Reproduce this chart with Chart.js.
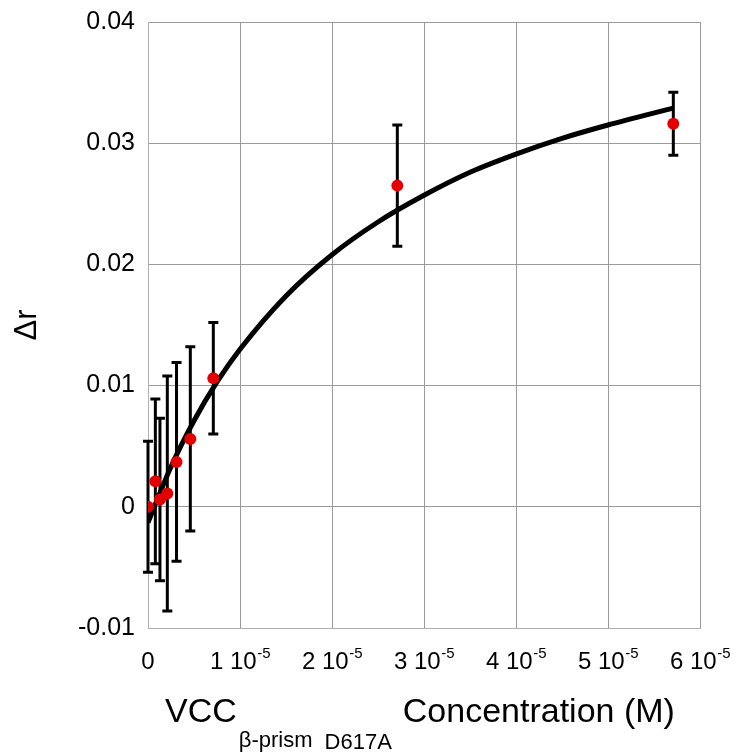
<!DOCTYPE html>
<html>
<head>
<meta charset="utf-8">
<script src="https://cdn.jsdelivr.net/npm/chart.js@4/dist/chart.umd.min.js"></script>
<style>
  html, body { margin: 0; padding: 0; background: #ffffff; }
  #wrap { width: 740px; height: 754px; }
</style>
</head>
<body>
<div id="wrap"><canvas id="c" width="740" height="754"></canvas></div>
<script>
// ---- data ----
const concentrations = [0, 0.8e-6, 1.3e-6, 2.1e-6, 3.1e-6, 4.6e-6, 7.1e-6, 2.71e-5, 5.71e-5];   // M
const deltaR        = [0, 0.0021, 0.0006, 0.0011, 0.0037, 0.0056, 0.0106, 0.0265, 0.0316];
const deltaRErr     = [0.0054, 0.0068, 0.0067, 0.0097, 0.0082, 0.0076, 0.0046, 0.0050, 0.0026];

// fitted curve
const fitX = [0, 2.5e-6, 5e-6, 7.5e-6, 1e-5, 1.5e-5, 2e-5, 2.5e-5, 3e-5, 3.5e-5, 4e-5, 4.5e-5, 5e-5, 5.71e-5];
const fitY = [-0.0013, 0.0033, 0.0071, 0.0103, 0.0130, 0.0174, 0.0208, 0.0235, 0.0257, 0.0276, 0.0291, 0.0304, 0.0315, 0.0329];

const xTickMantissas = ['0', '1', '2', '3', '4', '5', '6'];
const xTickExponent = '-5';
const yTickLabels = ['-0.01', '0', '0.01', '0.02', '0.03', '0.04'];

const FONT = "'Liberation Sans', Arial, Helvetica, sans-serif";

const fitPoints = fitX.map((x, i) => ({ x: x, y: fitY[i] }));
const dataPoints = concentrations.map((x, i) => ({ x: x, y: deltaR[i] }));

const errorBarPlugin = {
  id: 'errorBars',
  beforeDatasetsDraw(chart) {
    const ctx = chart.ctx, xs = chart.scales.x, ys = chart.scales.y;
    ctx.save();
    ctx.strokeStyle = '#000000';
    ctx.lineWidth = 3;
    ctx.lineCap = 'butt';
    concentrations.forEach((c, i) => {
      const px = xs.getPixelForValue(c);
      const top = ys.getPixelForValue(deltaR[i] + deltaRErr[i]);
      const bot = ys.getPixelForValue(deltaR[i] - deltaRErr[i]);
      ctx.beginPath();
      ctx.moveTo(px, top); ctx.lineTo(px, bot);
      ctx.moveTo(px - 5, top); ctx.lineTo(px + 5, top);
      ctx.moveTo(px - 5, bot); ctx.lineTo(px + 5, bot);
      ctx.stroke();
    });
    ctx.restore();
  }
};

const labelsPlugin = {
  id: 'customLabels',
  afterDraw(chart) {
    const ctx = chart.ctx, xs = chart.scales.x;
    ctx.save();
    ctx.fillStyle = '#000000';
    ctx.textBaseline = 'alphabetic';
    // x tick labels with superscript exponent
    const base = 669;
    xTickMantissas.forEach((m, i) => {
      const px = xs.getPixelForValue(i * 1e-5);
      if (m === '0') {
        ctx.font = '24px ' + FONT;
        ctx.textAlign = 'center';
        ctx.fillText('0', px, base);
        return;
      }
      const main = m + ' 10';
      ctx.font = '24px ' + FONT;
      const w1 = ctx.measureText(main).width;
      ctx.font = '15px ' + FONT;
      const w2 = ctx.measureText(xTickExponent).width;
      const start = px - (w1 + w2) / 2;
      ctx.textAlign = 'left';
      ctx.font = '24px ' + FONT;
      ctx.fillText(main, start, base);
      ctx.font = '15px ' + FONT;
      ctx.fillText(xTickExponent, start + w1 + 0.5, base - 11);
    });
    // x axis title
    let x = 165;
    const tb = 722;
    ctx.textAlign = 'left';
    ctx.font = '34px ' + FONT;
    ctx.fillText('VCC', x, tb);
    x += ctx.measureText('VCC').width + 2;
    ctx.font = '22px ' + FONT;
    ctx.fillText('\u03B2-prism', x, 747);
    x += ctx.measureText('\u03B2-prism').width + 12;
    ctx.fillText('D617A', x, 749);
    x += ctx.measureText('D617A').width + 11;
    ctx.font = '34px ' + FONT;
    ctx.fillText('Concentration (M)', x, tb);
    // y axis title
    ctx.save();
    ctx.translate(36, 325);
    ctx.rotate(-Math.PI / 2);
    ctx.textAlign = 'center';
    ctx.font = '31px ' + FONT;
    ctx.fillText('\u0394r', 0, 0);
    ctx.restore();
    ctx.restore();
  }
};

new Chart(document.getElementById('c'), {
  type: 'scatter',
  data: {
    datasets: [
      {
        type: 'line',
        label: 'fit',
        data: fitPoints,
        borderColor: '#000000',
        borderWidth: 5,
        pointRadius: 0,
        fill: false,
        cubicInterpolationMode: 'monotone',
        order: 2
      },
      {
        label: 'data',
        data: dataPoints,
        backgroundColor: '#e20000',
        borderColor: '#e20000',
        pointRadius: 6,
        pointHoverRadius: 6,
        borderWidth: 0,
        order: 1
      }
    ]
  },
  options: {
    responsive: false,
    animation: false,
    layout: { padding: { top: 22, right: 40, left: 0, bottom: 0 } },
    plugins: { legend: { display: false }, tooltip: { enabled: false } },
    scales: {
      x: {
        type: 'linear',
        min: 0, max: 6e-5,
        ticks: { display: false, stepSize: 1e-5 },
        grid: { color: '#9a9a9a', lineWidth: 1, drawTicks: false },
        border: { color: '#b0b0b0', width: 1 },
        afterFit(s) { s.height = 126; s.paddingLeft = 0; s.paddingRight = 0; }
      },
      y: {
        type: 'linear',
        min: -0.01, max: 0.04,
        ticks: {
          stepSize: 0.01,
          color: '#000000',
          padding: 13,
          font: { family: FONT, size: 25 },
          callback: (v) => {
            const idx = Math.round((v + 0.01) / 0.01);
            return yTickLabels[idx] !== undefined ? yTickLabels[idx] : '';
          }
        },
        grid: { color: '#9a9a9a', lineWidth: 1, drawTicks: false },
        border: { color: '#b0b0b0', width: 1 },
        afterFit(s) { s.width = 148; s.paddingTop = 0; s.paddingBottom = 0; }
      }
    }
  },
  plugins: [errorBarPlugin, labelsPlugin]
});
</script>
</body>
</html>
